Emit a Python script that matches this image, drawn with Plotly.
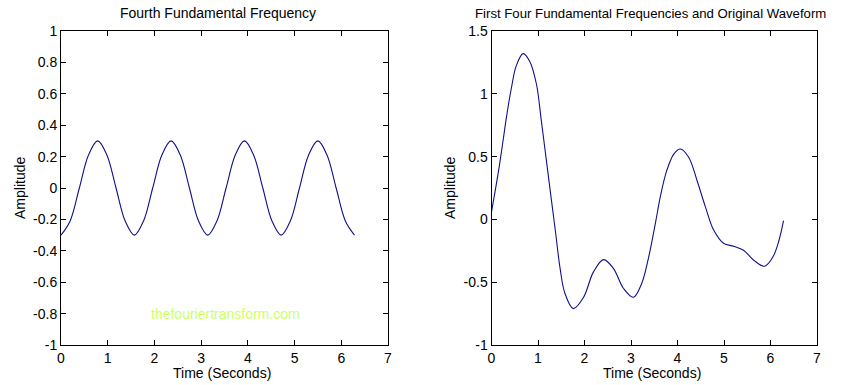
import plotly.graph_objects as go

# ---------------- data ----------------
# Left panel: fourth fundamental frequency
t_fourth = [0, 0.196, 0.393, 0.589, 0.785, 0.982, 1.178, 1.374, 1.571, 1.767, 1.963,
            2.160, 2.356, 2.553, 2.749, 2.945, 3.142, 3.338, 3.534, 3.731, 3.927,
            4.123, 4.320, 4.516, 4.712, 4.909, 5.105, 5.301, 5.498, 5.694, 5.890,
            6.087, 6.283]
y_fourth = [-0.30, -0.21, 0.00, 0.21, 0.30, 0.21, 0.00, -0.21,
            -0.30, -0.21, 0.00, 0.21, 0.30, 0.21, 0.00, -0.21,
            -0.30, -0.21, 0.00, 0.21, 0.30, 0.21, 0.00, -0.21,
            -0.30, -0.21, 0.00, 0.21, 0.30, 0.21, 0.00, -0.21,
            -0.30]

# Right panel: sum of first four fundamental frequencies
t_sum = [0, 0.14, 0.25, 0.32, 0.43, 0.53, 0.68, 0.82, 0.965, 1.07, 1.18, 1.29,
         1.38, 1.475, 1.58, 1.76, 1.98, 2.19, 2.41, 2.62, 2.84, 3.05, 3.23, 3.38,
         3.53, 3.63, 3.77, 3.92, 4.06, 4.24, 4.42, 4.60, 4.78, 4.99, 5.21, 5.42,
         5.64, 5.87, 6.05, 6.18, 6.28]
y_sum = [0.06, 0.36, 0.63, 0.81, 1.05, 1.22, 1.32, 1.26, 1.08, 0.79, 0.47, 0.15,
         -0.11, -0.39, -0.59, -0.71, -0.62, -0.42, -0.32, -0.39, -0.55, -0.62, -0.51, -0.30,
         -0.02, 0.18, 0.39, 0.52, 0.56, 0.495, 0.31, 0.10, -0.087, -0.19, -0.214, -0.246,
         -0.325, -0.373, -0.30, -0.17, -0.01]

x_ticks = [0, 1, 2, 3, 4, 5, 6, 7]
x_ticktext = ["0", "1", "2", "3", "4", "5", "6", "7"]
y_left_ticks = [-1, -0.8, -0.6, -0.4, -0.2, 0, 0.2, 0.4, 0.6, 0.8, 1]
y_left_ticktext = ["-1", "-0.8", "-0.6", "-0.4", "-0.2", "0", "0.2", "0.4", "0.6", "0.8", "1"]
y_right_ticks = [-1, -0.5, 0, 0.5, 1, 1.5]
y_right_ticktext = ["-1", "-0.5", "0", "0.5", "1", "1.5"]

title_left = "Fourth Fundamental Frequency"
title_right = "First Four Fundamental Frequencies and Original Waveform"
x_label = "Time (Seconds)"
y_label = "Amplitude"
watermark = "thefouriertransform.com"

# ---------------- figure ----------------
W, H = 845, 385
LINE = "#10108a"
FONT = "Liberation Sans, Arial, sans-serif"
FS = 14

fig = go.Figure()
fig.add_trace(go.Scatter(x=t_fourth, y=y_fourth, mode="lines",
                         line=dict(color=LINE, width=1.1, shape="spline", smoothing=1.0),
                         xaxis="x", yaxis="y", showlegend=False, hoverinfo="skip"))
fig.add_trace(go.Scatter(x=t_sum, y=y_sum, mode="lines",
                         line=dict(color=LINE, width=1.1, shape="spline", smoothing=1.0),
                         xaxis="x2", yaxis="y2", showlegend=False, hoverinfo="skip"))

axis_common = dict(showline=True, linecolor="black", linewidth=1, mirror="ticks",
                   ticks="inside", ticklen=5, tickcolor="black", tickwidth=1,
                   showgrid=False, zeroline=False, automargin=False,
                   tickfont=dict(family=FONT, size=FS, color="black"))

y0 = (H - 345) / H
y1 = (H - 31) / H

fig.update_layout(
    width=W, height=H,
    margin=dict(l=0, r=0, t=0, b=0),
    paper_bgcolor="white", plot_bgcolor="white",
    xaxis=dict(domain=[61 / W, 388 / W], range=[0, 7], tickvals=x_ticks,
               ticktext=x_ticktext, anchor="y", ticklabelstandoff=0, **axis_common),
    yaxis=dict(domain=[y0, y1], range=[-1, 1], tickvals=y_left_ticks,
               ticktext=y_left_ticktext, anchor="x", **axis_common),
    xaxis2=dict(domain=[491.5 / W, 817 / W], range=[0, 7], tickvals=x_ticks,
                ticktext=x_ticktext, anchor="y2", ticklabelstandoff=0, **axis_common),
    yaxis2=dict(domain=[y0, y1], range=[-1, 1.5], tickvals=y_right_ticks,
                ticktext=y_right_ticktext, anchor="x2", **axis_common),
)

def ann(text, px, py, angle=0, color="black", size=FS):
    fig.add_annotation(text=text, x=px / W, y=1 - py / H, xref="paper", yref="paper",
                       xanchor="center", yanchor="middle", showarrow=False,
                       textangle=angle, font=dict(family=FONT, size=size, color=color))

ann(title_left, 218, 13)
ann(title_right, 650, 13, size=13.2)
ann(x_label, 222, 373)
ann(x_label, 652, 373)
ann(y_label, 20, 188, angle=-90)
ann(y_label, 450, 188, angle=-90)

fig.add_annotation(text=watermark, x=3.53, y=-0.80, xref="x", yref="y",
                   xanchor="center", yanchor="middle", showarrow=False,
                   font=dict(family=FONT, size=FS, color="#ccff66"))

fig.write_html("out.html", config={"displayModeBar": False},
               post_script="document.body.style.margin='0px';")
